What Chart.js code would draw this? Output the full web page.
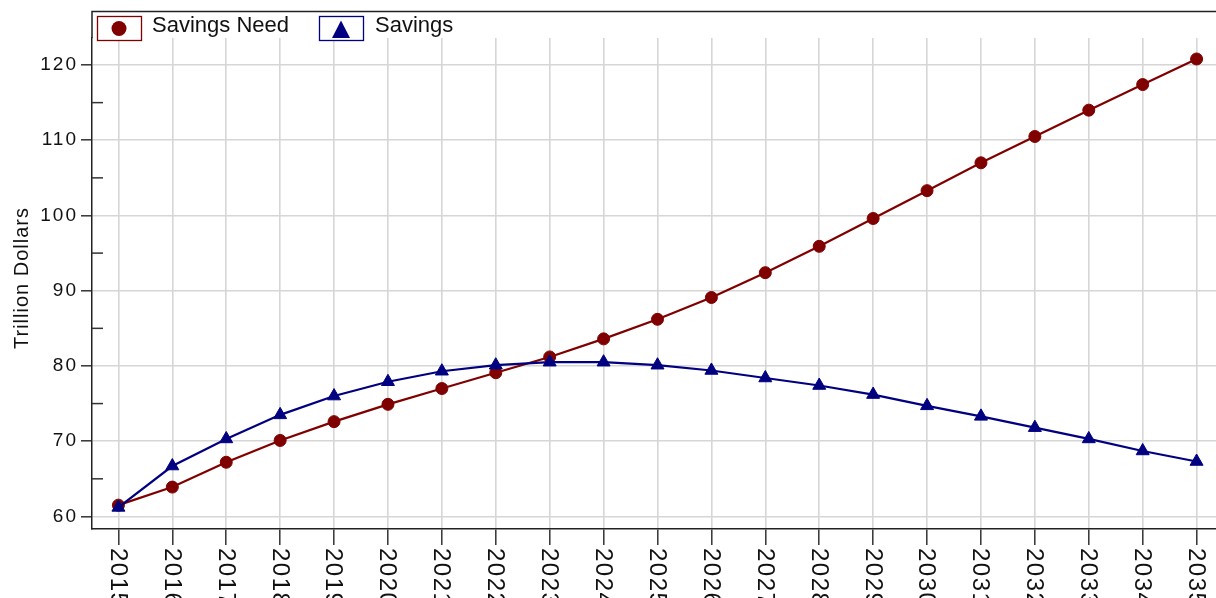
<!DOCTYPE html>
<html>
<head>
<meta charset="utf-8">
<title>Savings Need vs Savings</title>
<script src="https://cdn.jsdelivr.net/npm/chart.js@4.4.1/dist/chart.umd.min.js"></script>
<style>
  html, body { margin: 0; padding: 0; background: #fff; overflow: hidden; }
  #wrap { width: 1216px; height: 598px; overflow: hidden; }
  canvas { display: block; }
</style>
</head>
<body>
<div id="wrap"><canvas id="savingsChart" width="1216" height="598"></canvas></div>
<script>
// Data (trillion dollars)
const years = ['2015', '2016', '2017', '2018', '2019', '2020', '2021', '2022', '2023', '2024', '2025',
               '2026', '2027', '2028', '2029', '2030', '2031', '2032', '2033', '2034', '2035'];
const savingsNeed = [61.5, 63.9, 67.2, 70.1, 72.6, 74.9, 77.0, 79.1, 81.2, 83.6, 86.2,
                     89.1, 92.4, 95.9, 99.6, 103.3, 107.0, 110.5, 114.0, 117.4, 120.8];
const savings = [61.2, 66.7, 70.3, 73.5, 76.0, 77.9, 79.3, 80.1, 80.5, 80.5, 80.1,
                 79.4, 78.4, 77.4, 76.2, 74.7, 73.3, 71.8, 70.3, 68.7, 67.3];
const yTicks = [60, 70, 80, 90, 100, 110, 120];
const yMinorTicks = [65, 75, 85, 95, 105, 115];
const seriesNames = ['Savings Need', 'Savings'];
const yTitle = 'Trillion Dollars';

const NEED_COLOR = '#800000';
const SAVINGS_COLOR = '#000080';
const FONT = "'Liberation Sans', Arial, sans-serif";
const TEXT_COLOR = '#111';

function toPoints(values) {
    return values.map((v, i) => ({ x: Number(years[i]), y: v }));
}

// frame, minor ticks, rotated year labels, axis title and legend
const extras = {
    id: 'extras',
    beforeDraw(chart) {
        chart.ctx.letterSpacing = '0px';
    },
    afterDatasetsDraw(chart) {
        // y tick labels are drawn after this (ticks.z = 1)
        chart.ctx.letterSpacing = '2px';
    },
    afterDraw(chart) {
        const ctx = chart.ctx;
        const area = chart.chartArea;
        const xScale = chart.scales.x;
        const yScale = chart.scales.y;
        ctx.save();
        ctx.letterSpacing = '0px';

        // top frame line plus the left axis running up to it
        ctx.strokeStyle = '#222';
        ctx.lineWidth = 1.5;
        ctx.beginPath();
        ctx.moveTo(area.left, area.top);
        ctx.lineTo(area.left, 11.5);
        ctx.lineTo(chart.width, 11.5);
        ctx.stroke();

        // minor ticks point inward
        ctx.strokeStyle = '#333';
        ctx.lineWidth = 1.5;
        yMinorTicks.forEach(v => {
            const py = yScale.getPixelForValue(v);
            ctx.beginPath();
            ctx.moveTo(area.left, py);
            ctx.lineTo(area.left + 11, py);
            ctx.stroke();
        });

        // year labels, turned clockwise
        ctx.fillStyle = TEXT_COLOR;
        ctx.font = '24px ' + FONT;
        ctx.letterSpacing = '1.5px';
        ctx.textAlign = 'left';
        ctx.textBaseline = 'middle';
        years.forEach(label => {
            const px = xScale.getPixelForValue(Number(label));
            ctx.save();
            ctx.translate(px - 1, area.bottom + 19);
            ctx.rotate(Math.PI / 2);
            ctx.fillText(label, 0, 0);
            ctx.restore();
        });

        // axis title
        ctx.font = '20px ' + FONT;
        ctx.letterSpacing = '1px';
        ctx.textAlign = 'center';
        ctx.save();
        ctx.translate(22, 278);
        ctx.rotate(-Math.PI / 2);
        ctx.fillText(yTitle, 0, 0);
        ctx.restore();
        ctx.letterSpacing = '0px';

        // legend
        drawLegendBox(ctx, 97, NEED_COLOR);
        ctx.fillStyle = NEED_COLOR;
        ctx.beginPath();
        ctx.arc(119, 28.5, 7.5, 0, Math.PI * 2);
        ctx.fill();

        drawLegendBox(ctx, 319, SAVINGS_COLOR);
        ctx.fillStyle = SAVINGS_COLOR;
        ctx.beginPath();
        ctx.moveTo(341, 20.5);
        ctx.lineTo(350, 38);
        ctx.lineTo(332, 38);
        ctx.closePath();
        ctx.fill();

        ctx.fillStyle = TEXT_COLOR;
        ctx.font = '22px ' + FONT;
        ctx.textAlign = 'left';
        ctx.textBaseline = 'middle';
        ctx.fillText(seriesNames[0], 152, 26);
        ctx.fillText(seriesNames[1], 375, 26);
        ctx.restore();
    }
};

function drawLegendBox(ctx, left, color) {
    ctx.fillStyle = '#fff';
    ctx.fillRect(left, 16, 44, 24);
    ctx.strokeStyle = color;
    ctx.lineWidth = 1.3;
    ctx.strokeRect(left + 0.5, 16.5, 44, 24);
}

const ctx = document.getElementById('savingsChart').getContext('2d');
new Chart(ctx, {
    type: 'line',
    data: {
        datasets: [{
            label: seriesNames[0],
            data: toPoints(savingsNeed),
            borderColor: NEED_COLOR,
            backgroundColor: NEED_COLOR,
            borderWidth: 2.2,
            pointStyle: 'circle',
            pointRadius: 6,
            pointBorderWidth: 1,
            tension: 0,
            order: 1
        }, {
            label: seriesNames[1],
            data: toPoints(savings),
            borderColor: SAVINGS_COLOR,
            backgroundColor: SAVINGS_COLOR,
            borderWidth: 2.2,
            pointStyle: 'triangle',
            pointRadius: 7.5,
            pointBorderWidth: 1,
            tension: 0,
            order: 0
        }]
    },
    options: {
        responsive: false,
        animation: false,
        devicePixelRatio: 1,
        layout: { autoPadding: false, padding: { top: 38, left: 0, right: 0, bottom: 0 } },
        plugins: {
            legend: { display: false },
            tooltip: { enabled: false }
        },
        scales: {
            x: {
                type: 'linear',
                min: 2014.51,
                max: 2035.36,
                afterBuildTicks: scale => { scale.ticks = years.map(y => ({ value: Number(y) })); },
                afterFit: scale => { scale.height = 69; },
                ticks: { display: false, autoSkip: false },
                grid: {
                    color: '#d6d6d6',
                    lineWidth: 1.6,
                    tickColor: '#333',
                    tickWidth: 1.5,
                    tickLength: 16
                },
                border: { display: true, color: '#222', width: 1.5 }
            },
            y: {
                min: 58.33,
                max: 123.59,
                afterBuildTicks: scale => { scale.ticks = yTicks.map(v => ({ value: v })); },
                afterFit: scale => { scale.width = 92; },
                ticks: {
                    color: TEXT_COLOR,
                    font: { family: FONT, size: 19 },
                    padding: 3,
                    autoSkip: false,
                    z: 1,
                    callback: v => String(v)
                },
                grid: {
                    color: '#d6d6d6',
                    lineWidth: 1.6,
                    tickColor: '#333',
                    tickWidth: 1.5,
                    tickLength: 11
                },
                border: { display: true, color: '#222', width: 1.5 }
            }
        }
    },
    plugins: [extras]
});
</script>
</body>
</html>
